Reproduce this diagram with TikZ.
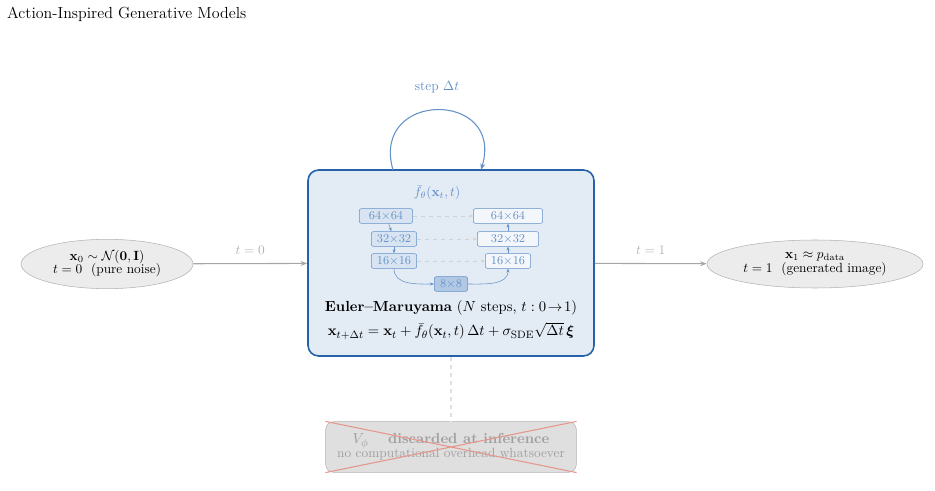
\documentclass[tikz,border=0pt,11pt]{standalone}
\usepackage{amsmath,amssymb}
\usepackage{bm}
\usetikzlibrary{positioning,arrows.meta}
\definecolor{boxblue}{RGB}{38,98,168}
\definecolor{netblue}{RGB}{100,145,200}
\definecolor{crossred}{RGB}{230,150,140}
\tikzset{
  state/.style={ellipse,draw=gray!60,fill=gray!15,inner sep=1pt,align=center,font=\small},
  flow/.style={-{Stealth[length=5pt]},gray!70,thick},
  lvl/.style={draw=netblue,fill=netblue!25,rounded corners=1.5pt,font=\footnotesize,text=netblue,inner sep=1.5pt,minimum height=11pt},
  lvr/.style={lvl,fill=netblue!8},
  skip/.style={-{Stealth[length=3pt]},gray!35,dashed},
  down/.style={-{Stealth[length=3pt]},netblue}
}
\usetikzlibrary{shapes.geometric}
\begin{document}
\begin{tikzpicture}[x=0.75pt,y=-0.75pt]
        \useasboundingbox (0,0) rectangle (935,491);
        \node[anchor=west,font=\large] (title) at (2,14) {Action-Inspired Generative Models};
        % core box
        \node[draw=boxblue,very thick,fill=netblue!18,rounded corners=8pt,minimum width=214.5pt,minimum height=139.5pt] (core) at (451,263) {};
        \node[state,minimum width=129pt,minimum height=37pt] (noise) at (107,264)
            {$\mathbf{x}_0 \sim \mathcal{N}(\mathbf{0},\mathbf{I})$\\[-2pt]$t=0$ \ (pure noise)};
        \node[state,minimum width=162pt,minimum height=36pt] (data) at (815,264)
            {$\mathbf{x}_1 \approx p_{\mathrm{data}}$\\[-2pt]$t=1$ \ (generated image)};
        \draw[flow] (noise) -- node[above=3pt,text=gray!60,font=\small] {$t=0$} (core);
        \draw[flow] (core) -- node[above=3pt,text=gray!60,font=\small] {$t=1$} (data);
        % loop
        \coordinate (lpA) at (393,170); \coordinate (lpB) at (481,170);
        \draw[netblue,thick,-{Stealth[length=5pt]}] (lpA) .. controls (370,90) and (505,90) .. (lpB);
        \node[text=netblue,font=\small] (step) at (437,87) {step $\Delta t$};
        % network
        \node[text=netblue,font=\small] (fth) at (437,193) {$\bar f_\theta(\mathbf{x}_t,t)$};
        \node[lvl,minimum width=40pt] (e1) at (386,216) {$64{\times}64$};
        \node[lvl,minimum width=34pt] (e2) at (394,239) {$32{\times}32$};
        \node[lvl,minimum width=34pt] (e3) at (394,261) {$16{\times}16$};
        \node[lvl,fill=netblue!50,minimum width=25pt] (mid) at (451,284) {$8{\times}8$};
        \node[lvr,minimum width=52pt] (d1) at (508,216) {$64{\times}64$};
        \node[lvr,minimum width=46pt] (d2) at (508,239) {$32{\times}32$};
        \node[lvr,minimum width=34pt] (d3) at (508,261) {$16{\times}16$};
        \draw[down] (e1) -- (e2); \draw[down] (e2) -- (e3);
        \draw[down] (e3.south) to[out=-90,in=180] (mid.west);
        \draw[down] (mid.east) to[out=0,in=-90] (d3.south);
        \draw[down] (d3) -- (d2); \draw[down] (d2) -- (d1);
        \foreach \a/\b in {e1/d1,e2/d2,e3/d3}
            \draw[skip] (\a) -- (\b);
        \node (euler) at (451,308) {\textbf{Euler--Maruyama} ($N$ steps, $t:0\!\to\!1$)};
        \node (eq) at (451,331) {$\mathbf{x}_{t+\Delta t}=\mathbf{x}_t+\bar f_\theta(\mathbf{x}_t,t)\,\Delta t+\sigma_{\mathrm{SDE}}\sqrt{\Delta t}\,\bm{\xi}$};
        % discarded critic
        \node[draw=gray!60,fill=gray!25,rounded corners=6pt,minimum width=188pt,minimum height=38pt,text=gray!75,align=center] (vphi) at (451,447)
            {$V_\phi$ \quad \textbf{discarded at inference}\\[-3pt]{\small no computational overhead whatsoever}};
        \draw[gray!25,dashed,thick] (core) -- (vphi);
        \draw[crossred,thick] (vphi.north west) -- (vphi.south east);
        \draw[crossred,thick] (vphi.south west) -- (vphi.north east);
    \end{tikzpicture}
\end{document}
